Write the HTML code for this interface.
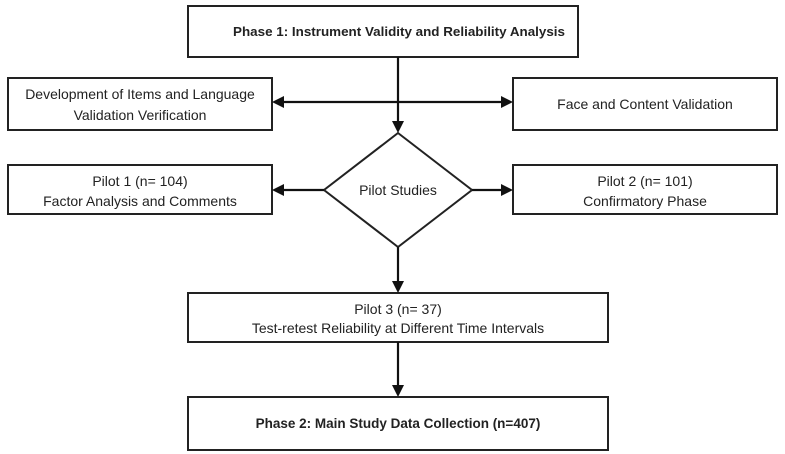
<!DOCTYPE html>
<html><head><style>html,body{margin:0;padding:0;background:#fff;}svg{display:block}</style></head>
<body>
<svg width="785" height="454" viewBox="0 0 785 454" xmlns="http://www.w3.org/2000/svg" font-family="Liberation Sans, sans-serif" font-size="14" fill="#222">
<g fill="#fff" stroke="#222" stroke-width="2">
<rect x="188" y="6" width="390" height="51"/>
<rect x="8" y="78" width="264" height="52"/>
<rect x="513" y="78" width="264" height="52"/>
<rect x="8" y="165" width="264" height="49"/>
<rect x="513" y="165" width="264" height="49"/>
<polygon points="398,133 472,190 398,247 324,190"/>
<rect x="188" y="293" width="420" height="49"/>
<rect x="188" y="397" width="420" height="53"/>
</g>
<g stroke="#111" stroke-width="2.2" fill="none">
<line x1="398" y1="57" x2="398" y2="122"/>
<line x1="282" y1="102" x2="502" y2="102"/>
<line x1="282" y1="190" x2="324" y2="190"/>
<line x1="472" y1="190" x2="502" y2="190"/>
<line x1="398" y1="247" x2="398" y2="282"/>
<line x1="398" y1="342" x2="398" y2="386"/>
</g>
<g fill="#111">
<polygon points="392,121 404,121 398,133"/>
<polygon points="272,102 284,96 284,108"/>
<polygon points="513,102 501,96 501,108"/>
<polygon points="272,190 284,184 284,196"/>
<polygon points="513,190 501,184 501,196"/>
<polygon points="392,281 404,281 398,293"/>
<polygon points="392,385 404,385 398,397"/>
</g>
<g text-anchor="middle">
<text x="399" y="36" font-weight="bold" font-size="13" textLength="332" lengthAdjust="spacingAndGlyphs">Phase 1: Instrument Validity and Reliability Analysis</text>
<text x="140" y="99">Development of Items and Language</text>
<text x="140" y="120">Validation Verification</text>
<text x="645" y="109">Face and Content Validation</text>
<text x="140" y="186">Pilot 1 (n= 104)</text>
<text x="140" y="206">Factor Analysis and Comments</text>
<text x="398" y="195">Pilot Studies</text>
<text x="645" y="186">Pilot 2 (n= 101)</text>
<text x="645" y="206">Confirmatory Phase</text>
<text x="398" y="314">Pilot 3  (n= 37)</text>
<text x="398" y="333">Test-retest Reliability at Different Time Intervals</text>
<text x="398" y="428" font-weight="bold" font-size="13.5">Phase 2: Main Study Data Collection (n=407)</text>
</g>
</svg>
</body></html>
